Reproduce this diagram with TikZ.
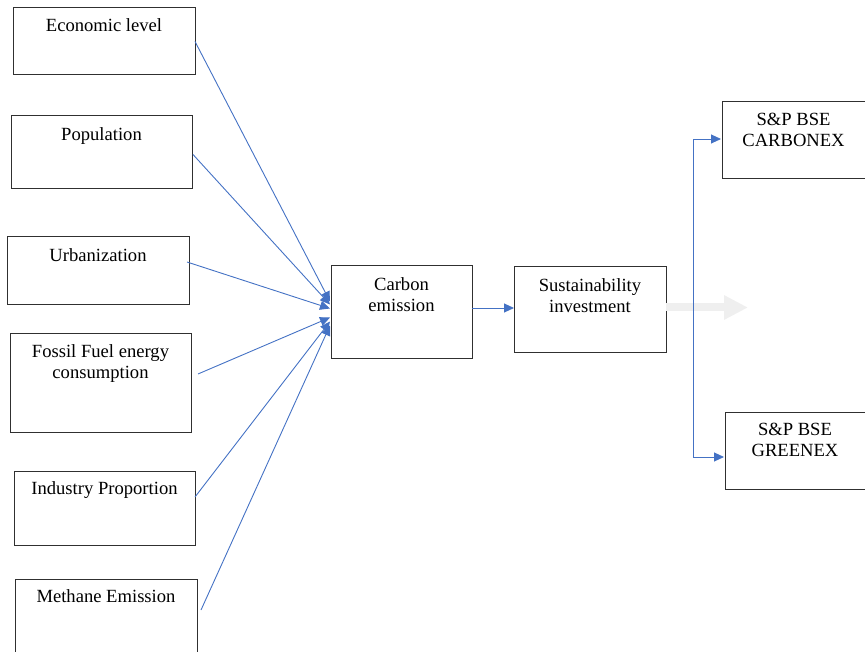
\documentclass[tikz,border=0pt]{standalone}
\usepackage{fontspec}
\setmainfont{Liberation Serif}
\usetikzlibrary{arrows.meta}
\definecolor{lnblue}{HTML}{4472C4}
\definecolor{boxline}{HTML}{303030}
\definecolor{fatgray}{HTML}{EFEFEF}
\begin{document}
\begin{tikzpicture}[x=1pt,y=-1pt,
 box/.style={draw=boxline, line width=1pt, anchor=north west, inner sep=0pt, outer sep=0pt},
 lbl/.style={anchor=north, inner sep=0pt, align=center, font=\fontsize{18.6}{21}\selectfont},
 conn/.style={draw=lnblue, line width=0.9pt, -{Triangle[length=10pt,width=9pt]}}]
\useasboundingbox (0,0) rectangle (865,652);
% input boxes
\node[box, minimum width=182pt, minimum height=67pt] (econ) at (13,8) {};
\node[lbl] at ([yshift=-10pt]econ.north) {Economic level};
\node[box, minimum width=181pt, minimum height=73pt] (pop) at (11,116) {};
\node[lbl] at ([yshift=-11pt]pop.north) {Population};
\node[box, minimum width=182pt, minimum height=68pt] (urb) at (7,237) {};
\node[lbl] at ([yshift=-11pt]urb.north) {Urbanization};
\node[box, minimum width=181pt, minimum height=98pt] (fossil) at (10,334) {};
\node[lbl] at ([yshift=-10pt]fossil.north) {Fossil Fuel energy\\consumption};
\node[box, minimum width=181pt, minimum height=74pt] (ind) at (14,471) {};
\node[lbl] at ([yshift=-10pt]ind.north) {Industry Proportion};
\node[box, minimum width=182pt, minimum height=86pt] (meth) at (15,579) {};
\node[lbl] at ([yshift=-10pt]meth.north) {Methane Emission};
% middle boxes
\node[box, minimum width=141pt, minimum height=93pt] (carbon) at (331,266) {};
\node[lbl] at ([yshift=-11pt]carbon.north) {Carbon\\emission};
\node[box, minimum width=152pt, minimum height=86pt] (sus) at (514,267) {};
\node[lbl] at ([yshift=-11pt]sus.north) {Sustainability\\investment};
% right boxes
\node[box, minimum width=143pt, minimum height=77pt] (carbonex) at (722,102) {};
\node[lbl] at ([yshift=-11pt]carbonex.north) {S\&P BSE\\CARBONEX};
\node[box, minimum width=140pt, minimum height=77pt] (greenex) at (725,412) {};
\node[lbl] at ([yshift=-11pt]greenex.north) {S\&P BSE\\GREENEX};
% converging connectors
\draw[conn] (econ.east) -- ([xshift=-1pt,yshift=11pt]carbon.west);
\draw[conn] ([xshift=1pt,yshift=-2pt]pop.east) -- ([xshift=-1pt,yshift=8pt]carbon.west);
\draw[conn] ([xshift=-2pt,yshift=9pt]urb.east) -- ([xshift=-1pt,yshift=4pt]carbon.west);
\draw[conn] ([xshift=7pt,yshift=9pt]fossil.east) -- ([xshift=-1pt,yshift=-5pt]carbon.west);
\draw[conn] ([yshift=11pt]ind.east) -- ([xshift=-1pt,yshift=-9pt]carbon.west);
\draw[conn] ([xshift=4pt,yshift=12pt]meth.east) -- ([xshift=-1pt,yshift=-13pt]carbon.west);
% carbon -> sustainability
\draw[conn] ([yshift=4.5pt]carbon.east) -- ([yshift=4.5pt]carbon.east -| sus.west);
% gray arrow
\coordinate (grayend) at (748,307.5);
\draw[fatgray, line width=8pt, -{Triangle[length=24pt,width=23pt]}] (sus.east |- grayend) -- (grayend);
% fork
\coordinate (fT) at (693,139);
\coordinate (fB) at (693,457);
\draw[draw=lnblue, line width=0.9pt, {Triangle[length=10pt,width=9pt]}-{Triangle[length=10pt,width=9pt]}] ([xshift=-1pt]fT -| carbonex.west) -- (fT) -- (fB) -- ([xshift=-1pt]fB -| greenex.west);
\end{tikzpicture}
\end{document}
